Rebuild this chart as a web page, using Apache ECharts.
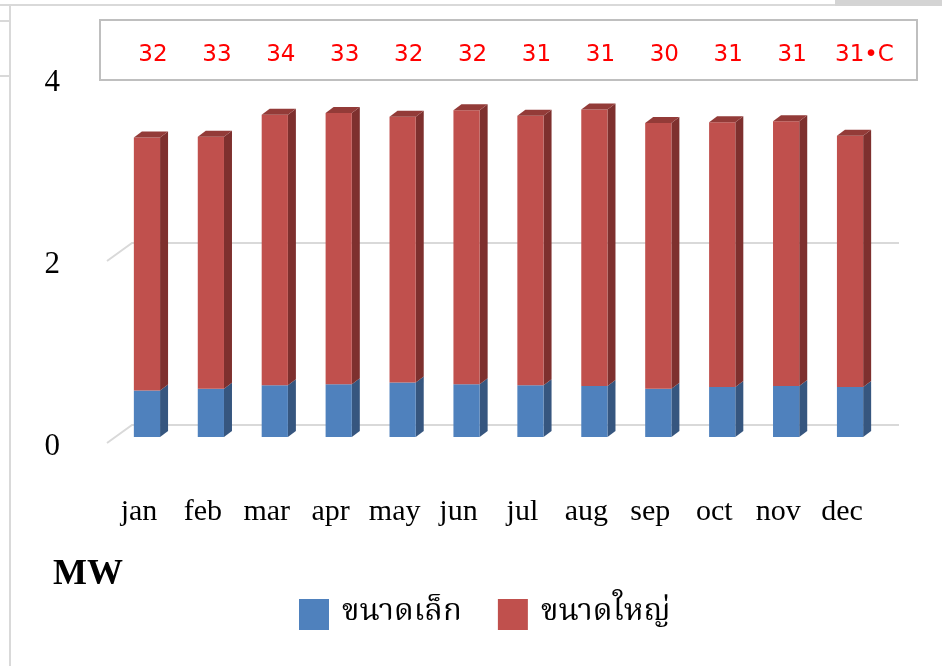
<!DOCTYPE html>
<html>
<head>
<meta charset="utf-8">
<script src="https://cdn.jsdelivr.net/npm/echarts@6/dist/echarts.min.js"></script>
<style>
  html, body { margin: 0; padding: 0; background: #fff; }
  #main { width: 942px; height: 666px; }
</style>
</head>
<body>
<div id="main"></div>
<script>
var months = ['jan', 'feb', 'mar', 'apr', 'may', 'jun', 'jul', 'aug', 'sep', 'oct', 'nov', 'dec'];
var small = [0.51, 0.53, 0.57, 0.58, 0.60, 0.58, 0.57, 0.56, 0.53, 0.55, 0.56, 0.55]; // ขนาดเล็ก
var large = [2.78, 2.77, 2.97, 2.98, 2.92, 3.01, 2.96, 3.04, 2.92, 2.91, 2.91, 2.76]; // ขนาดใหญ่
var temps = [32, 33, 34, 33, 32, 32, 31, 31, 30, 31, 31, 31];
var yTicks = [0, 2, 4];

var thaiFont = "'Noto Serif Thai', 'Noto Sans Thai', 'Liberation Serif', serif";
var serif = "'Liberation Serif', 'DejaVu Serif', serif";

// floor depth and bar depth (fake 3d like excel)
var FLOOR_DX = 25, FLOOR_DY = -18;
var BAR_DX = 8, BAR_DY = -6;

function barItem(front, side, top, withTop) {
  return function (params, api) {
    var i = api.value(0);
    var p0 = api.coord([i, api.value(1)]);
    var p1 = api.coord([i, api.value(2)]);
    var w = api.size([1, 0])[0] * 0.41;
    var x = p0[0] + BAR_DX - w / 2;
    var yb = p0[1] + BAR_DY, yt = p1[1] + BAR_DY;
    var kids = [
      { type: 'polygon', shape: { points: [[x + w, yt], [x + w + BAR_DX, yt + BAR_DY], [x + w + BAR_DX, yb + BAR_DY], [x + w, yb]] }, style: { fill: side } },
      { type: 'rect', shape: { x: x, y: yt, width: w, height: yb - yt }, style: { fill: front } }
    ];
    if (withTop) {
      kids.push({ type: 'polygon', shape: { points: [[x, yt], [x + BAR_DX, yt + BAR_DY], [x + w + BAR_DX, yt + BAR_DY], [x + w, yt]] }, style: { fill: top } });
    }
    return { type: 'group', children: kids };
  };
}

var smallData = small.map(function (v, i) { return [i, 0, v]; });
var largeData = large.map(function (v, i) { return [i, small[i], small[i] + v]; });

var myChart = echarts.init(document.getElementById('main'));
myChart.setOption({
  animation: false,
  title: {
    text: 'MW', left: 48, top: 552,
    textStyle: { fontFamily: serif, fontWeight: 'bold', fontSize: 36, color: '#000' }
  },
  legend: {
    data: ['ขนาดเล็ก', 'ขนาดใหญ่'],
    left: 294, top: 594,
    icon: 'rect', itemWidth: 30, itemHeight: 31, itemGap: 36,
    textStyle: { fontFamily: thaiFont, fontSize: 31, color: '#000', padding: [0, 0, 0, 8] }
  },
  grid: { left: 107, top: 79, width: 767, height: 364 },
  xAxis: {
    type: 'category', data: months,
    axisLine: { show: false }, axisTick: { show: false },
    axisLabel: { interval: 0, fontFamily: serif, fontSize: 30, color: '#000', margin: 54 }
  },
  yAxis: {
    type: 'value', min: 0, max: 4, interval: 2,
    axisLine: { show: false }, axisTick: { show: false }, splitLine: { show: false },
    axisLabel: {
      margin: 47, formatter: '{v|{value}}',
      rich: { v: { fontFamily: serif, fontSize: 31, color: '#000', padding: [8, 0, 0, 0] } }
    }
  },
  graphic: [
    { type: 'rect', shape: { x: 0, y: 4, width: 835, height: 2 }, style: { fill: '#d9d9d9' }, z: 1 },
    { type: 'rect', shape: { x: 835, y: 0, width: 107, height: 6 }, style: { fill: '#d4d4d4' }, z: 1 },
    { type: 'rect', shape: { x: 9, y: 6, width: 2, height: 660 }, style: { fill: '#d9d9d9' }, z: 1 },
    { type: 'rect', shape: { x: 0, y: 20, width: 10, height: 2 }, style: { fill: '#d9d9d9' }, z: 1 },
    { type: 'rect', shape: { x: 0, y: 75, width: 10, height: 2 }, style: { fill: '#d9d9d9' }, z: 1 },
    { type: 'rect', shape: { x: 100, y: 20, width: 817, height: 60 }, style: { fill: '#fff', stroke: '#bfbfbf', lineWidth: 2 }, z: 5 }
  ],
  series: [
    {
      name: 'floor', type: 'custom', z: 1, silent: true,
      data: yTicks.map(function (v) { return [0, v]; }),
      renderItem: function (params, api) {
        var cs = params.coordSys;
        var y = api.coord([0, api.value(1)])[1];
        return {
          type: 'polyline',
          shape: { points: [[cs.x, y], [cs.x + FLOOR_DX, y + FLOOR_DY], [cs.x + cs.width + FLOOR_DX, y + FLOOR_DY]] },
          style: { stroke: '#d9d9d9', lineWidth: 2, fill: null }
        };
      }
    },
    {
      name: 'ขนาดเล็ก', type: 'custom', z: 2,
      itemStyle: { color: '#4f81bd' },
      encode: { x: 0, y: 2 },
      data: smallData,
      renderItem: barItem('#4f81bd', '#36567f', '#3e6797', false)
    },
    {
      name: 'ขนาดใหญ่', type: 'custom', z: 3,
      itemStyle: { color: '#c0504d' },
      encode: { x: 0, y: 2 },
      data: largeData,
      renderItem: barItem('#c0504d', '#7e302e', '#933b38', true)
    },
    {
      name: 'temp', type: 'custom', z: 10, silent: true,
      data: temps.map(function (t, i) { return [i, t]; }),
      renderItem: function (params, api) {
        var cs = params.coordSys;
        var i = api.value(0);
        var last = i === temps.length - 1;
        var x = api.coord([i, 0])[0];
        var txt = String(api.value(1)) + (last ? '•C' : '');
        return {
          type: 'text', z2: 100,
          style: {
            x: x + (last ? -7 : 14), y: cs.y - 24,
            text: txt, align: last ? 'left' : 'center', verticalAlign: 'middle',
            fill: '#ff0000', fontSize: 23,
            fontFamily: "'DejaVu Sans', sans-serif"
          }
        };
      }
    }
  ]
});
</script>
</body>
</html>
